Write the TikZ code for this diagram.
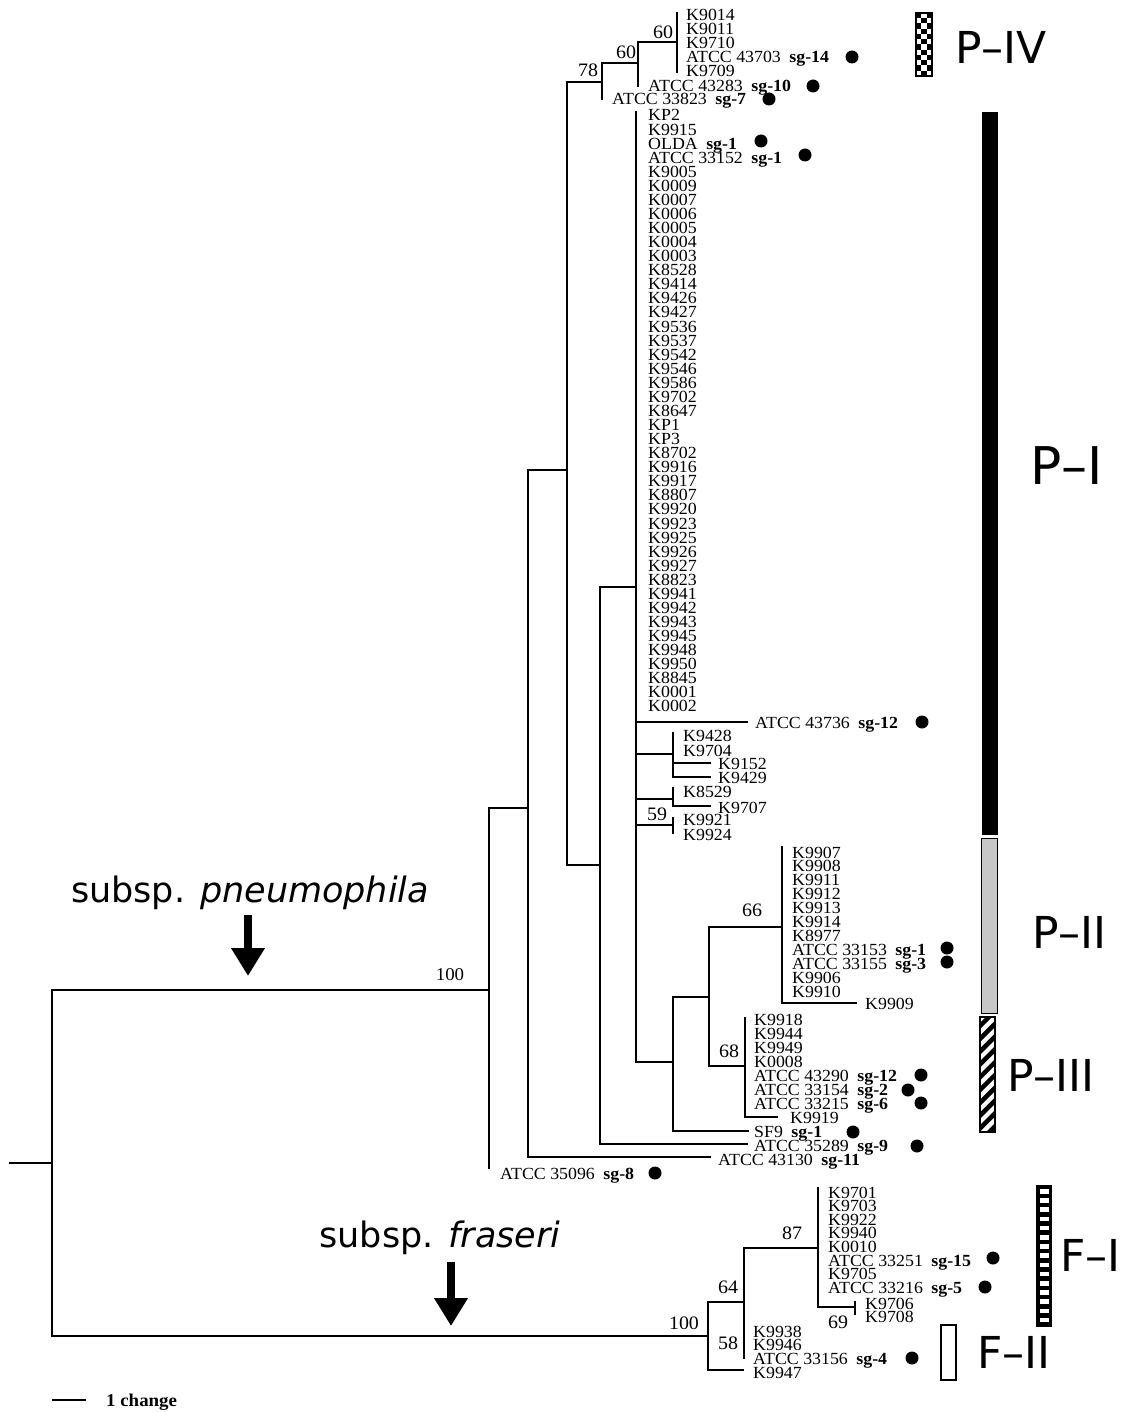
\documentclass[tikz,border=0pt]{standalone}
\usepackage{fontspec}
\setmainfont{Liberation Serif}[FakeStretch=1.05]
\newfontfamily\sansf{DejaVu Sans}
\usetikzlibrary{arrows.meta}
\newcommand\sgl[1]{\hspace{0.5em}\textbf{#1}}
\begin{document}
\begin{tikzpicture}[x=1pt,y=-1pt,
  br/.style={line width=1.3pt, line cap=rect},
  lf/.style={anchor=base west, inner sep=0pt, font=\fontsize{17}{17}\selectfont},
  bs/.style={anchor=center, inner sep=0pt, font=\fontsize{19}{19}\selectfont},
  dot/.style={circle, fill=black, inner sep=0pt, minimum size=13pt},
  big/.style={anchor=west, inner sep=0pt, font=\sansf\fontsize{44}{44}\selectfont},
  sub/.style={anchor=center, inner sep=0pt, font=\sansf\fontsize{35}{35}\selectfont},
  bigarrow/.style={line width=8pt, -{Triangle[width=32pt,length=28pt]}}]
\useasboundingbox (0,0) rectangle (1134,1412);
\fill[white] (0,0) rectangle (1134,1412);

% ---------- internal node coordinates ----------
\coordinate (r0) at (10,1163);
\coordinate (rt) at (52,1163);
\coordinate (nA) at (489,990);
\coordinate (nFr) at (708,1336);
\coordinate (nB) at (528,808);
\coordinate (nC) at (567,470);
\coordinate (nD) at (602,82);
\coordinate (nE2) at (638,63);
\coordinate (n60) at (677,42);
\coordinate (nE) at (600,865);
\coordinate (nF) at (636,587);
\coordinate (nG1) at (673,754);
\coordinate (nG2) at (673,799);
\coordinate (nG3) at (673,825);
\coordinate (nH) at (673,1062);
\coordinate (nI) at (709,997);
\coordinate (nJ) at (782,927);
\coordinate (nK) at (745,1066);
\coordinate (n64) at (744,1302);
\coordinate (n87) at (818,1248);
\coordinate (n69) at (855,1307);
% tips
\coordinate (tA) at (489,1168);
\coordinate (t43130) at (710,1157);
\coordinate (t33823) at (602,99);
\coordinate (t43283) at (638,86);
\coordinate (t60a) at (677,13);
\coordinate (t60b) at (677,72);
\coordinate (t35289) at (747,1144);
\coordinate (tFa) at (636,112);
\coordinate (t43736) at (747,722);
\coordinate (tG1a) at (673,733);
\coordinate (t9152) at (710,763);
\coordinate (t9429) at (710,777);
\coordinate (tG2a) at (673,788);
\coordinate (t9707) at (710,806);
\coordinate (tG3a) at (673,818);
\coordinate (tG3b) at (673,833);
\coordinate (tSF9) at (748,1131);
\coordinate (tJa) at (782,847);
\coordinate (t9909) at (856,1003);
\coordinate (tKa) at (745,1018);
\coordinate (t9919) at (777,1117);
\coordinate (t9947) at (743,1370);
\coordinate (t64b) at (744,1358);
\coordinate (t87a) at (818,1188);
\coordinate (t69a) at (855,1302);
\coordinate (t69b) at (855,1314);

% ---------- branches ----------
\draw[br] (r0) -- (rt);
\draw[br] (rt) |- (nA);
\draw[br] (rt) |- (nFr);
\draw[br] (nA) |- (nB);
\draw[br] (nA) -- (tA);
\draw[br] (nB) |- (nC);
\draw[br] (nB) |- (t43130);
\draw[br] (nC) |- (nD);
\draw[br] (nC) |- (nE);
\draw[br] (nD) |- (nE2);
\draw[br] (nD) -- (t33823);
\draw[br] (nE2) |- (n60);
\draw[br] (nE2) -- (t43283);
\draw[br] (t60a) -- (t60b);
\draw[br] (nE) |- (nF);
\draw[br] (nE) |- (t35289);
\draw[br] (tFa) -- (nF) |- (nH);
\draw[br] (nF) |- (t43736);
\draw[br] (nF) |- (nG1);
\draw[br] (nF) |- (nG2);
\draw[br] (nF) |- (nG3);
\draw[br] (tG1a) -- (nG1) |- (t9429);
\draw[br] (nG1) |- (t9152);
\draw[br] (tG2a) -- (nG2) |- (t9707);
\draw[br] (tG3a) -- (tG3b);
\draw[br] (nH) |- (nI);
\draw[br] (nH) |- (tSF9);
\draw[br] (nI) |- (nJ);
\draw[br] (nI) |- (nK);
\draw[br] (tJa) -- (nJ) |- (t9909);
\draw[br] (tKa) -- (nK) |- (t9919);
\draw[br] (nFr) |- (n64);
\draw[br] (nFr) |- (t9947);
\draw[br] (n64) |- (n87);
\draw[br] (n64) -- (t64b);
\draw[br] (t87a) -- (n87) |- (n69);
\draw[br] (t69a) -- (t69b);

% ---------- leaf labels ----------
\foreach \t [count=\i from 0] in {K9014,K9011,K9710,{ATCC 43703\sgl{sg-14}},K9709}
  \node[lf] (la\i) at (686,{15+14*\i+6}) {\t};
\node[lf] (l43283) at (648,92) {ATCC 43283\sgl{sg-10}};
\node[lf] (l33823) at (612,105) {ATCC 33823\sgl{sg-7}};
\foreach \t [count=\i from 0] in {KP2,K9915,{OLDA\sgl{sg-1}},{ATCC 33152\sgl{sg-1}},K9005,K0009,K0007,K0006,K0005,K0004,K0003,K8528,K9414,K9426,K9427,K9536,K9537,K9542,K9546,K9586,K9702,K8647,KP1,KP3,K8702,K9916,K9917,K8807,K9920,K9923,K9925,K9926,K9927,K8823,K9941,K9942,K9943,K9945,K9948,K9950,K8845,K0001,K0002}
  \node[lf] (lp\i) at (648,{115+14.07*\i+6}) {\t};
\node[lf] (l43736) at (755,728) {ATCC 43736\sgl{sg-12}};
\node[lf] (l9428) at (683,741) {K9428};
\node[lf] (l9704) at (683,756) {K9704};
\node[lf] (l9152) at (718,769) {K9152};
\node[lf] (l9429) at (718,783) {K9429};
\node[lf] (l8529) at (683,797) {K8529};
\node[lf] (l9707) at (718,813) {K9707};
\node[lf] (l9921) at (683,825) {K9921};
\node[lf] (l9924) at (683,840) {K9924};
\foreach \t [count=\i from 0] in {K9907,K9908,K9911,K9912,K9913,K9914,K8977,{ATCC 33153\sgl{sg-1}},{ATCC 33155\sgl{sg-3}},K9906,K9910}
  \node[lf] (lj\i) at (792,{852+13.9*\i+6}) {\t};
\node[lf] (l9909) at (865,1009) {K9909};
\foreach \t [count=\i from 0] in {K9918,K9944,K9949,K0008,{ATCC 43290\sgl{sg-12}},{ATCC 33154\sgl{sg-2}},{ATCC 33215\sgl{sg-6}}}
  \node[lf] (lk\i) at (754,{1019+14*\i+6}) {\t};
\node[lf] (l9919) at (790,1123) {K9919};
\node[lf] (lSF9) at (754,1137) {SF9\sgl{sg-1}};
\node[lf] (l35289) at (754,1151) {ATCC 35289\sgl{sg-9}};
\node[lf] (l43130) at (718,1165) {ATCC 43130\sgl{sg-11}};
\node[lf] (l35096) at (500,1179) {ATCC 35096\sgl{sg-8}};
\foreach \t [count=\i from 0] in {K9701,K9703,K9922,K9940,K0010,{ATCC 33251\sgl{sg-15}},K9705,{ATCC 33216\sgl{sg-5}}}
  \node[lf] (lf\i) at (828,{1192+13.6*\i+6}) {\t};
\node[lf] (l9706) at (865,1309) {K9706};
\node[lf] (l9708) at (865,1322) {K9708};
\foreach \t [count=\i from 0] in {K9938,K9946,{ATCC 33156\sgl{sg-4}},K9947}
  \node[lf] (lg\i) at (753,{1331+13.7*\i+6}) {\t};

% ---------- bootstrap values ----------
\node[bs] (b60a) at (663,32) {60};
\node[bs] (b60b) at (626,52) {60};
\node[bs] (b78) at (588,70) {78};
\node[bs] (b59) at (657,814) {59};
\node[bs] (b66) at (752,910) {66};
\node[bs] (b68) at (729,1051) {68};
\node[bs,font=\fontsize{18}{18}\selectfont] (b100a) at (450,975) {100};
\node[bs] (b100b) at (684,1323) {100};
\node[bs] (b87) at (792,1233) {87};
\node[bs] (b64) at (728,1287) {64};
\node[bs] (b58) at (728,1343) {58};
\node[bs] (b69) at (838,1322) {69};

% ---------- serogroup dots ----------
\node[dot] (d1) at (852,57) {};
\node[dot] (d2) at (813,86) {};
\node[dot] (d3) at (769,99) {};
\node[dot] (d4) at (761,141) {};
\node[dot] (d5) at (805,155) {};
\node[dot] (d6) at (922,722) {};
\node[dot] (d7) at (947,948) {};
\node[dot] (d8) at (947,962) {};
\node[dot] (d9) at (921,1075) {};
\node[dot] (d10) at (908,1090) {};
\node[dot] (d11) at (921,1103) {};
\node[dot] (d12) at (853,1132) {};
\node[dot] (d13) at (917,1146) {};
\node[dot] (d14) at (655,1173) {};
\node[dot] (d15) at (993,1258) {};
\node[dot] (d16) at (985,1287) {};
\node[dot] (d17) at (912,1358) {};

% ---------- cluster bars ----------
% P-IV checkerboard
\foreach \r in {0,...,11}{\foreach \c in {0,1,2}{
  \pgfmathtruncatemacro\ckpar{mod(\r+\c,2)}
  \ifnum\ckpar=0 \fill[black] ({916+5.333*\c},{13+5.25*\r}) rectangle ++(5.333,5.25);\fi}}
\draw[line width=1.5pt] (916,13) rectangle (932,76);
% P-I
\fill[black] (982,112) rectangle (998,835);
% P-II
\draw[line width=1pt, fill=black!22] (981,838) rectangle (997,1013);
% P-III hatched
\begin{scope}
\clip (980,1017) rectangle (995,1132);
\foreach \k in {0,...,11}
  \draw[line width=4.5pt] (976,{1030+12.8*\k}) -- (1000,{1006+12.8*\k});
\end{scope}
\draw[line width=1.5pt] (980,1017) rectangle (995,1132);
% F-I ladder
\fill[black] (1036,1185) rectangle (1052,1327);
\foreach \k in {0,...,14}
  \fill[white] (1039.5,{1189+9.2*\k}) rectangle (1048.5,{1193.6+9.2*\k});
% F-II
\draw[line width=1.5pt] (941,1325) rectangle (956,1380);

% ---------- cluster names ----------
\node[big] (cPIV) at (955,47) {P–IV};
\node[big,font=\sansf\fontsize{52}{52}\selectfont] (cPI) at (1030,466) {P–I};
\node[big] (cPII) at (1032,932) {P–II};
\node[big] (cPIII) at (1007,1075) {P–III};
\node[big] (cFI) at (1060,1255) {F–I};
\node[big] (cFII) at (977,1352) {F–II};

% ---------- subspecies ----------
\node[sub] (sP) at (250,893) {subsp. \textit{pneumophila}};
\coordinate (aP1) at (248,915);
\coordinate (aP2) at (248,976);
\draw[bigarrow] (aP1) -- (aP2);
\node[sub] (sF) at (440,1238) {subsp. \textit{fraseri}};
\coordinate (aF1) at (451,1262);
\coordinate (aF2) at (451,1326);
\draw[bigarrow] (aF1) -- (aF2);

% ---------- scale bar ----------
\coordinate (sc1) at (52,1400);
\coordinate (sc2) at (86,1400);
\draw[line width=1.3pt] (sc1) -- (sc2);
\node[lf,font=\bfseries\fontsize{18}{18}\selectfont] (scl) at (106,1406) {1 change};
\end{tikzpicture}
\end{document}
